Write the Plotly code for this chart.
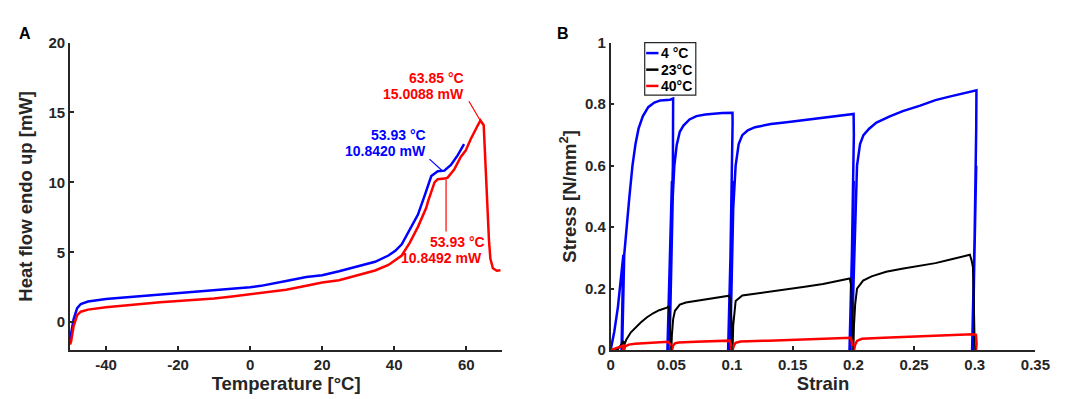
import plotly.graph_objects as go

# ---------------- Panel A data (DSC) ----------------
temp_blue = [-50, -49.7, -49, -48, -47, -45, -40, -35, -30, -25, -20, -15, -10, -5, 0, 3, 6.5, 10,
             15.6, 18, 20, 24.7, 30, 34.7, 38.4, 40.3, 42.1, 44.3, 46.6, 48.5, 50.3, 52.1, 53.93,
             55.75, 57.6, 59.4]
heat_blue = [-1.3, -0.9, 0.2, 1.0, 1.3, 1.48, 1.66, 1.76, 1.86, 1.95, 2.05, 2.15, 2.27, 2.38, 2.5,
             2.6, 2.8, 2.95, 3.23, 3.3, 3.36, 3.64, 3.98, 4.32, 4.77, 5.11, 5.57, 6.6, 7.7, 9.09,
             10.45, 10.8, 10.84, 11.25, 11.93, 12.73]

temp_red = [-50, -49.7, -49, -48, -47, -45, -40, -35, -30, -25, -20, -15, -10, -5, 0, 3, 6.5, 10,
            15.6, 20, 24.7, 30.2, 34.7, 38.4, 42.1, 44.3, 46.6, 48.9, 49.4, 51.2, 52.1, 53.93, 54.83,
            56.65, 58.48, 59.84, 61.2, 63.0, 63.94, 64.85, 65.3, 65.8, 66.3, 66.7, 67.4, 68.5, 69.5]
heat_red = [-1.6, -1.41, -0.3, 0.5, 0.75, 0.9, 1.07, 1.2, 1.32, 1.42, 1.52, 1.6, 1.7, 1.84, 2.0,
            2.06, 2.16, 2.32, 2.61, 2.84, 3.0, 3.41, 3.7, 4.09, 4.77, 5.68, 6.82, 8.18, 8.64, 10.0,
            10.23, 10.27, 10.34, 10.91, 11.82, 12.27, 13.07, 13.98, 14.43, 14.09, 11.59, 8.18, 5.91,
            4.55, 3.86, 3.68, 3.72]

# annotation texts (panel A) and their anchor values
ann_texts = ["63.85 °C", "15.0088 mW", "53.93 °C", "10.8420 mW", "53.93 °C", "10.8492 mW"]
ann_x = [60.0, 60.0, 49.3, 49.3, 65.7, 65.0]
ann_y = [17.43, 16.31, 13.41, 12.27, 5.73, 4.59]
ann_col = ["red", "red", "blue", "blue", "red", "red"]
# leader lines: (x0, y0, x1, y1, colour)
leaders = [(60.75, 15.8, 63.9, 14.43, "red"),
           (49.8, 11.66, 53.5, 10.8, "blue"),
           (54.4, 10.23, 54.4, 6.48, "red")]

# ---------------- Panel B data (stress-strain) ----------------
series_names = ["4 °C", "23°C", "40°C"]
series_colors = ["blue", "black", "red"]

strain_4 = [0, 0.003, 0.006, 0.0085, 0.0105, 0.0102, 0.0095, 0.009, 0.0098, 0.0104, 0.0096, 0.0095,
            0.0112, 0.0135, 0.0155, 0.018, 0.0205, 0.023, 0.0265, 0.031, 0.036, 0.041, 0.046, 0.049,
            0.0515, 0.0513, 0.0475, 0.0468, 0.0505, 0.0472, 0.0485, 0.0512, 0.0525, 0.0545, 0.057,
            0.060, 0.065, 0.0707, 0.078, 0.084, 0.092, 0.1004, 0.1005, 0.0975, 0.0968, 0.1003,
            0.0972, 0.0985, 0.101, 0.103, 0.1055, 0.1085, 0.113, 0.119, 0.132, 0.145, 0.16, 0.175,
            0.187, 0.1945, 0.2002, 0.2004, 0.1975, 0.1968, 0.2003, 0.1972, 0.1985, 0.2015, 0.203,
            0.2055, 0.2083, 0.213, 0.219, 0.23, 0.2407, 0.255, 0.2676, 0.28, 0.2946, 0.3014,
            0.3012, 0.2985, 0.2978, 0.3012, 0.2982, 0.2995, 0.3005]
stress_4 = [0, 0.06, 0.14, 0.23, 0.31, 0.2, 0.03, 0.0, 0.2, 0.31, 0.05, 0.0,
            0.31, 0.42, 0.5, 0.6, 0.67, 0.72, 0.76, 0.79, 0.805, 0.812, 0.813, 0.814,
            0.818, 0.6, 0.0, 0.0, 0.55, 0.0, 0.0, 0.5, 0.6, 0.668, 0.71,
            0.73, 0.75, 0.761, 0.766, 0.769, 0.771, 0.772, 0.74, 0.0, 0.0, 0.55,
            0.0, 0.0, 0.46, 0.6, 0.67, 0.699, 0.715, 0.725, 0.735, 0.741, 0.748, 0.755,
            0.761, 0.765, 0.768, 0.7, 0.0, 0.0, 0.55, 0.0, 0.0, 0.46, 0.6,
            0.67, 0.699, 0.72, 0.74, 0.76, 0.777, 0.795, 0.813, 0.825, 0.839, 0.845,
            0.72, 0.0, 0.0, 0.6, 0.0, 0.0, 0.0]

strain_23 = [0, 0.006, 0.009, 0.0105, 0.0108, 0.011, 0.0115, 0.013, 0.0167, 0.02, 0.0248, 0.03,
             0.035, 0.04, 0.0464, 0.0478, 0.0485, 0.049, 0.0495, 0.05, 0.0505, 0.0515, 0.053,
             0.057, 0.062, 0.0707, 0.08, 0.09, 0.0977, 0.0985, 0.0995, 0.1, 0.1005, 0.101, 0.102,
             0.103, 0.1085, 0.12, 0.132, 0.145, 0.16, 0.175, 0.19, 0.197, 0.198, 0.199, 0.1995,
             0.2, 0.2005, 0.2015, 0.203, 0.208, 0.215, 0.227, 0.24, 0.255, 0.2676, 0.28, 0.29,
             0.296, 0.2975, 0.2985, 0.299, 0.2995, 0.3]
stress_23 = [0, 0.003, 0.02, 0.03, 0.01, 0.0, 0.02, 0.035, 0.058, 0.072, 0.09, 0.107,
             0.12, 0.13, 0.138, 0.143, 0.12, 0.06, 0.0, 0.0, 0.05, 0.1, 0.128,
             0.148, 0.155, 0.16, 0.166, 0.172, 0.177, 0.16, 0.1, 0.0, 0.0, 0.08, 0.13,
             0.16, 0.178, 0.184, 0.19, 0.197, 0.206, 0.215, 0.226, 0.233, 0.215, 0.1, 0.0,
             0.0, 0.08, 0.15, 0.2, 0.226, 0.24, 0.255, 0.265, 0.275, 0.283, 0.295, 0.304,
             0.31, 0.29, 0.27, 0.2, 0.0, 0.0]

strain_40 = [0, 0.005, 0.009, 0.0105, 0.0105, 0.011, 0.012, 0.015, 0.02, 0.03, 0.04, 0.0475, 0.049,
             0.0495, 0.0505, 0.0515, 0.053, 0.056, 0.07, 0.085, 0.098, 0.099, 0.0995, 0.1005,
             0.1015, 0.103, 0.107, 0.13, 0.15, 0.175, 0.198, 0.1985, 0.1995, 0.2005, 0.2015,
             0.203, 0.207, 0.225, 0.25, 0.275, 0.298, 0.301, 0.3015, 0.301, 0.3]
stress_40 = [0, 0.006, 0.013, 0.015, 0.0, 0.0, 0.012, 0.018, 0.021, 0.024, 0.026, 0.027, 0.02,
             0.0, 0.0, 0.015, 0.022, 0.025, 0.027, 0.029, 0.031, 0.02, 0.0, 0.0,
             0.015, 0.024, 0.028, 0.031, 0.034, 0.037, 0.04, 0.03, 0.0, 0.0, 0.018,
             0.03, 0.037, 0.04, 0.044, 0.049, 0.052, 0.05, 0.02, 0.0, 0.0]

strain_series = [strain_4, strain_23, strain_40]
stress_series = [stress_4, stress_23, stress_40]
line_widths = [2.5, 2.0, 2.5]

# tick settings
a_xticks = [-40, -20, 0, 20, 40, 60]
a_xticklabels = ["-40", "-20", "0", "20", "40", "60"]
a_yticks = [0, 5, 10, 15, 20]
a_yticklabels = ["0", "5", "10", "15", "20"]
b_xticks = [0, 0.05, 0.1, 0.15, 0.2, 0.25, 0.3, 0.35]
b_xticklabels = ["0", "0.05", "0.1", "0.15", "0.2", "0.25", "0.3", "0.35"]
b_yticks = [0, 0.2, 0.4, 0.6, 0.8, 1.0]
b_yticklabels = ["0", "0.2", "0.4", "0.6", "0.8", "1"]

FONT = "Liberation Sans, Arial, sans-serif"
INK = "#262626"

fig = go.Figure()
fig.add_trace(go.Scatter(x=temp_blue, y=heat_blue, mode="lines", line=dict(color="blue", width=2.5),
                         xaxis="x", yaxis="y", showlegend=False))
fig.add_trace(go.Scatter(x=temp_red, y=heat_red, mode="lines", line=dict(color="red", width=2.5),
                         xaxis="x", yaxis="y", showlegend=False))

for sx, sy, c, w, n in zip(strain_series, stress_series, series_colors, line_widths, series_names):
    fig.add_trace(go.Scatter(x=sx, y=sy, mode="lines", name=n, line=dict(color=c, width=w),
                             xaxis="x2", yaxis="y2", showlegend=False))

annotations = []
for t, x, y, c in zip(ann_texts, ann_x, ann_y, ann_col):
    annotations.append(dict(x=x, y=y, xref="x", yref="y", text=t, showarrow=False,
                            xanchor="right", yanchor="middle",
                            font=dict(family=FONT, size=14, color=c, weight="bold")))
shapes = []
for x0, y0, x1, y1, c in leaders:
    shapes.append(dict(type="line", xref="x", yref="y", x0=x0, y0=y0, x1=x1, y1=y1,
                       line=dict(color=c, width=1.2)))

# panel labels
annotations.append(dict(x=5 / 1084, y=1 - 17.5 / 399, xref="paper", yref="paper", text="A",
                        showarrow=False, xanchor="left", yanchor="middle",
                        font=dict(family=FONT, size=16, color="black", weight="bold")))
annotations.append(dict(x=553 / 1084, y=1 - 17.5 / 399, xref="paper", yref="paper", text="B",
                        showarrow=False, xanchor="left", yanchor="middle",
                        font=dict(family=FONT, size=16, color="black", weight="bold")))

# custom legend for panel B
lx0, lx1 = 644 / 1084, 696 / 1084
ly_top, ly_bot = 1 - 26.7 / 399, 1 - 81.7 / 399
shapes.append(dict(type="rect", xref="paper", yref="paper", x0=lx0, x1=lx1, y0=ly_bot, y1=ly_top,
                   line=dict(color=INK, width=1.2), fillcolor="white", layer="above"))
entry_y = [1 - 37.7 / 399, 1 - 55 / 399, 1 - 72 / 399]
for n, c, yy in zip(series_names, series_colors, entry_y):
    shapes.append(dict(type="line", xref="paper", yref="paper", x0=645.5 / 1084, x1=658 / 1084,
                       y0=yy, y1=yy, line=dict(color=c, width=2.5), layer="above"))
    annotations.append(dict(x=659 / 1084, y=yy, xref="paper", yref="paper", text=n, showarrow=False,
                            xanchor="left", yanchor="middle",
                            font=dict(family=FONT, size=14, color="black", weight="bold")))

ydom = [(399 - 348) / 399, (399 - 26.7) / 399]
axis_common = dict(showline=True, linecolor=INK, linewidth=1.5, ticks="inside", ticklen=4,
                   tickwidth=1.5, tickcolor=INK, showgrid=False, zeroline=False, mirror=False,
                   tickfont=dict(family=FONT, size=15, color=INK, weight="bold"))
title_font = dict(family=FONT, size=18.5, color=INK, weight="bold")

fig.update_layout(
    width=1084, height=399,
    margin=dict(l=0, r=0, t=0, b=0),
    paper_bgcolor="white", plot_bgcolor="white",
    font=dict(family=FONT, weight="bold"),
    xaxis=dict(domain=[59 / 1084, 499 / 1084], range=[-50, 70], tickvals=a_xticks,
               ticktext=a_xticklabels,
               title=dict(text="Temperature [°C]", font=title_font, standoff=5), anchor="y",
               **axis_common),
    yaxis=dict(domain=ydom, range=[-2, 20], tickvals=a_yticks, ticktext=a_yticklabels,
               title=dict(text="Heat flow endo up [mW]", font=title_font, standoff=11), anchor="x",
               **axis_common),
    xaxis2=dict(domain=[609.3 / 1084, 1041.7 / 1084], range=[0, 0.35], tickvals=b_xticks,
                ticktext=b_xticklabels,
                title=dict(text="Strain", font=title_font, standoff=5), anchor="y2",
                **axis_common),
    yaxis2=dict(domain=ydom, range=[0, 1], tickvals=b_yticks, ticktext=b_yticklabels,
                title=dict(text="Stress [N/mm<sup>2</sup>]", font=title_font, standoff=4),
                anchor="x2", **axis_common),
    annotations=annotations,
    shapes=shapes,
)

fig.write_html("out.html")
